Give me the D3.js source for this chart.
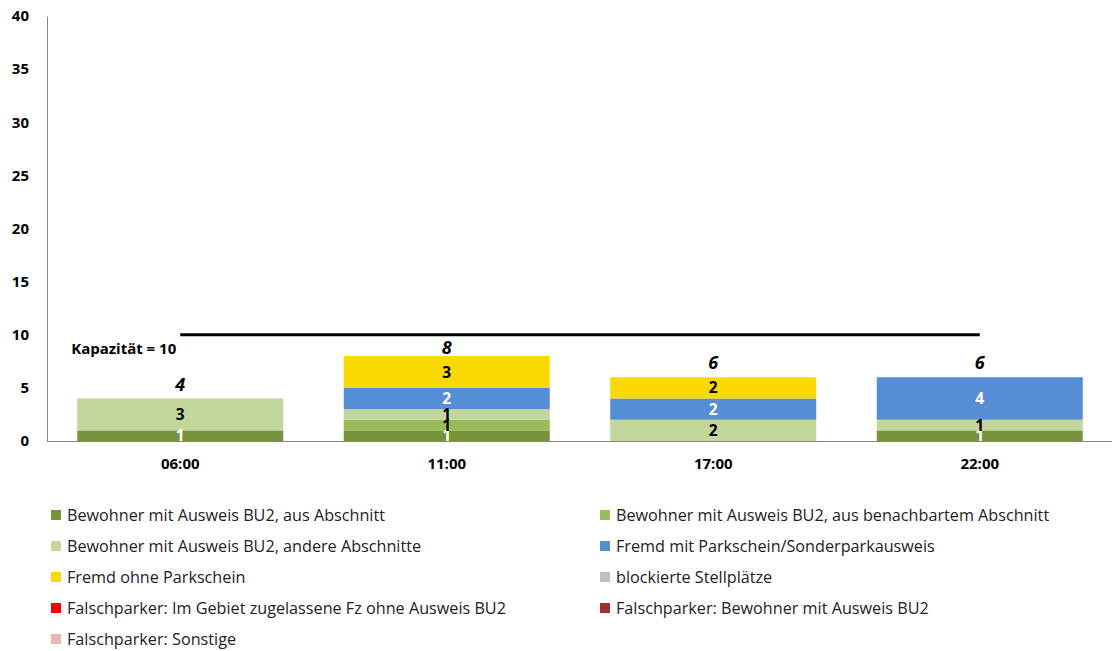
<!DOCTYPE html>
<html><head><meta charset="utf-8">
<script src="https://cdn.jsdelivr.net/npm/d3@7"></script>
<style>
body{margin:0;background:#fff;}
text{font-family:"Open Sans","Liberation Sans",sans-serif;}
</style></head>
<body><svg id="c" width="1117" height="651"></svg>
<script>
const categories = ["06:00","11:00","17:00","22:00"];
const seriesNames = [
  "Bewohner mit Ausweis BU2, aus Abschnitt",
  "Bewohner mit Ausweis BU2, aus benachbartem Abschnitt",
  "Bewohner mit Ausweis BU2, andere Abschnitte",
  "Fremd mit Parkschein/Sonderparkausweis",
  "Fremd ohne Parkschein",
  "blockierte Stellplätze",
  "Falschparker: Im Gebiet zugelassene Fz ohne Ausweis BU2",
  "Falschparker: Bewohner mit Ausweis BU2",
  "Falschparker: Sonstige"
];
const sAbschnitt   = [1,1,0,1];
const sBenachbart  = [0,1,0,0];
const sAndere      = [3,1,2,1];
const sFremdMit    = [0,2,2,4];
const sFremdOhne   = [0,3,2,0];
const sBlockiert   = [0,0,0,0];
const sFalschFz    = [0,0,0,0];
const sFalschBew   = [0,0,0,0];
const sFalschSonst = [0,0,0,0];
const seriesValues = [sAbschnitt,sBenachbart,sAndere,sFremdMit,sFremdOhne,sBlockiert,sFalschFz,sFalschBew,sFalschSonst];
const colors = ["#77933C","#9BBB59","#C3D69B","#558ED5","#FAD900","#BFBFBF","#FF0000","#A0302D","#E6B9B8"];
const labelColors = ["#fff","#000","#000","#fff","#000","#000","#fff","#fff","#000"];
const yTicks = [0,5,10,15,20,25,30,35,40];
const capacity = 10;
const capacityLabel = "Kapazität = 10";

const svg = d3.select("#c");
const mLeft = 47, mRight = 1113, mTop = 16, mBottom = 441;
const x = d3.scaleBand().domain(categories).range([mLeft,mRight]).paddingInner(0.227).paddingOuter(0.1135);
const y = d3.scaleLinear().domain([0,40]).range([mBottom,mTop]);

const rows = categories.map((c,i)=>{const r={cat:c}; seriesNames.forEach((s,j)=>r[s]=seriesValues[j][i]); return r;});
const stacked = d3.stack().keys(seriesNames)(rows);

// bars
stacked.forEach((layer,j)=>{
  svg.append("g").selectAll("rect").data(layer.filter(d=>d[1]-d[0]>0)).join("rect")
    .attr("x",d=>x(d.data.cat)).attr("width",x.bandwidth())
    .attr("y",d=>y(d[1])).attr("height",d=>y(d[0])-y(d[1]))
    .attr("fill",colors[j]);
});

// axes
const yAxis = svg.append("g").attr("transform",`translate(${mLeft},0)`)
  .call(d3.axisLeft(y).tickValues(yTicks).tickSize(0).tickPadding(18));
yAxis.select(".domain").attr("stroke","#868686");
yAxis.selectAll("text").attr("font-size","15px").attr("font-weight","bold").attr("fill","#000");

const xAxis = svg.append("g").attr("transform",`translate(0,${mBottom})`)
  .call(d3.axisBottom(x).tickSize(0).tickPadding(17));
xAxis.select(".domain").attr("stroke","#868686").attr("d",`M${mLeft},0.5H${mRight-1}`);
xAxis.selectAll("text").attr("font-size","15px").attr("font-weight","bold").attr("fill","#000");

// segment labels
stacked.forEach((layer,j)=>{
  svg.append("g").selectAll("text").data(layer.filter(d=>d[1]-d[0]>0)).join("text")
    .attr("x",d=>x(d.data.cat)+x.bandwidth()/2)
    .attr("y",d=>(y(d[0])+y(d[1]))/2)
    .attr("dy","0.36em").attr("text-anchor","middle")
    .attr("font-size","15.5px").attr("font-weight","bold")
    .attr("fill",labelColors[j])
    .text(d=>d[1]-d[0]);
});

// totals (pushed below the capacity line when they would collide with it)
const totals = categories.map((c,i)=>d3.sum(seriesValues,s=>s[i]));
const capY = y(capacity);
svg.append("g").selectAll("text").data(categories).join("text")
  .attr("x",c=>x(c)+x.bandwidth()/2)
  .attr("y",(c,i)=>{let b=y(totals[i])-8; if(b-14<capY+3) b=y(totals[i])-2; return b;})
  .attr("text-anchor","middle").attr("font-size","18px").attr("font-weight","bold").attr("font-style","italic")
  .text((c,i)=>totals[i]);

// capacity line
const x0 = x(categories[0])+x.bandwidth()/2, x1 = x(categories[categories.length-1])+x.bandwidth()/2;
svg.append("line").attr("x1",x0).attr("x2",x1).attr("y1",capY).attr("y2",capY)
  .attr("stroke","#000").attr("stroke-width",3);
svg.append("text").attr("x",x0-4).attr("y",capY+19).attr("text-anchor","end")
  .attr("font-size","15px").attr("font-weight","bold").text(capacityLabel);

// legend
const leg = svg.append("g");
seriesNames.forEach((s,j)=>{
  const col = j%2, row = Math.floor(j/2);
  const lx = col===0 ? 51 : 600, ly = 515 + row*31;
  leg.append("rect").attr("x",lx).attr("y",ly-5).attr("width",10).attr("height",10).attr("fill",colors[j]);
  leg.append("text").attr("x",lx+16).attr("y",ly).attr("dy","0.35em")
    .attr("font-size","16.2px").attr("fill","#222").text(s);
});
</script></body></html>
